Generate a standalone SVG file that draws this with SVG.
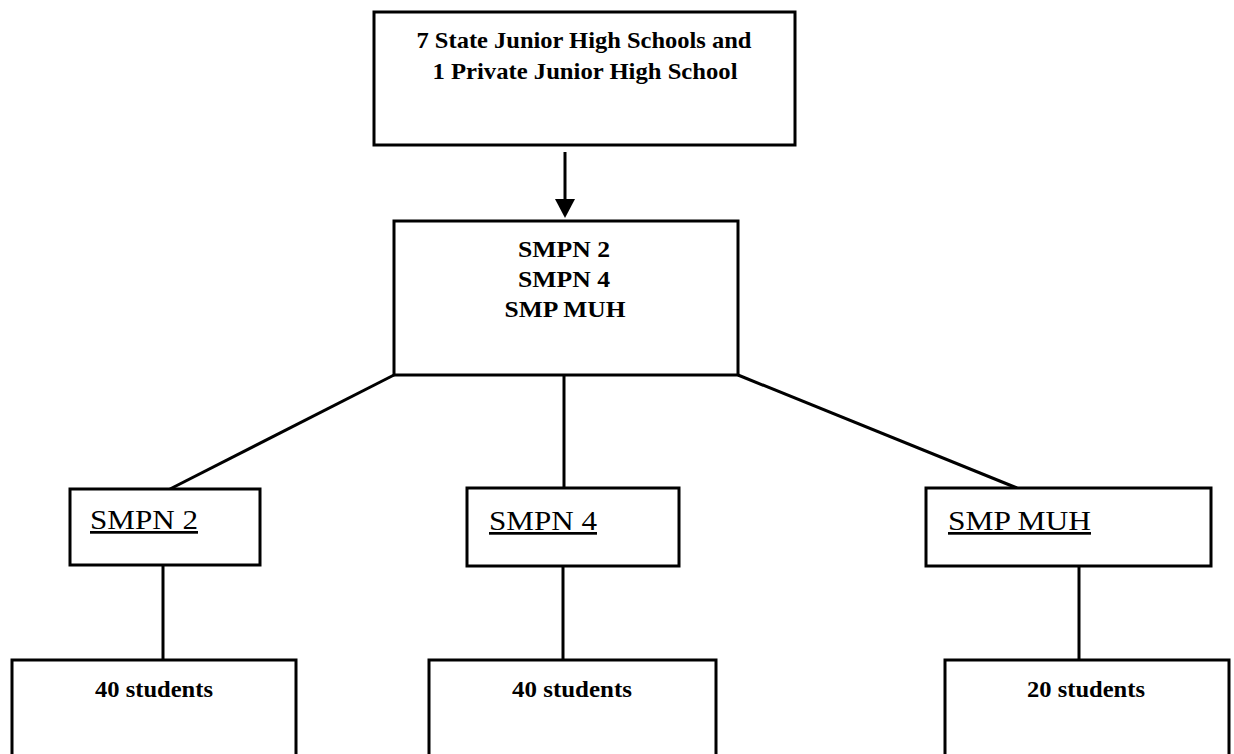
<svg xmlns="http://www.w3.org/2000/svg" width="1234" height="754" viewBox="0 0 1234 754">
<defs>
<style>
.box{fill:#fff;stroke:#000;stroke-width:3}
.ln{stroke:#000;stroke-width:3;fill:none}
text{font-family:"Liberation Serif","Times New Roman",serif;font-weight:bold;font-size:24px;fill:#000}
.c{text-anchor:middle}
.u{text-decoration:underline;font-weight:normal;font-size:27px}
</style>
</defs>
<rect width="1234" height="754" fill="#fff"/>
<g id="connectors">
<line class="ln" x1="565" y1="152" x2="565" y2="200"/>
<path d="M555,199 L575,199 L565,218 Z" fill="#000"/>
<line class="ln" x1="394" y1="375" x2="170" y2="489"/>
<line class="ln" x1="564" y1="375" x2="564" y2="488"/>
<line class="ln" x1="738" y1="375" x2="1017" y2="488"/>
<line class="ln" x1="163" y1="565" x2="163" y2="660"/>
<line class="ln" x1="563" y1="566" x2="563" y2="660"/>
<line class="ln" x1="1079" y1="566" x2="1079" y2="660"/>
</g>
<g id="top">
<rect class="box" x="374" y="12" width="421" height="133"/>
<text class="c" x="584" y="48" textLength="335" lengthAdjust="spacingAndGlyphs">7 State Junior High Schools and</text>
<text class="c" x="585" y="79" textLength="305" lengthAdjust="spacingAndGlyphs">1 Private Junior High School</text>
</g>
<g id="group">
<rect class="box" x="394" y="221" width="344" height="154"/>
<text class="c" x="564" y="257" textLength="92" lengthAdjust="spacingAndGlyphs">SMPN 2</text>
<text class="c" x="564" y="287" textLength="92" lengthAdjust="spacingAndGlyphs">SMPN 4</text>
<text class="c" x="565" y="317" textLength="121" lengthAdjust="spacingAndGlyphs">SMP MUH</text>
</g>
<g id="smpn2">
<rect class="box" x="70" y="489" width="190" height="76"/>
<text class="u" x="90" y="529" textLength="108" lengthAdjust="spacingAndGlyphs">SMPN 2</text>
</g>
<g id="smpn4">
<rect class="box" x="467" y="488" width="212" height="78"/>
<text class="u" x="489" y="530" textLength="108" lengthAdjust="spacingAndGlyphs">SMPN 4</text>
</g>
<g id="smpmuh">
<rect class="box" x="926" y="488" width="285" height="78"/>
<text class="u" x="948" y="530" textLength="143" lengthAdjust="spacingAndGlyphs">SMP MUH</text>
</g>
<g id="students1">
<path class="ln" d="M12,760 L12,660 L296,660 L296,760"/>
<text class="c" x="154" y="697" textLength="118" lengthAdjust="spacingAndGlyphs">40 students</text>
</g>
<g id="students2">
<path class="ln" d="M429,760 L429,660 L716,660 L716,760"/>
<text class="c" x="572" y="697" textLength="120" lengthAdjust="spacingAndGlyphs">40 students</text>
</g>
<g id="students3">
<path class="ln" d="M945,760 L945,660 L1229,660 L1229,760"/>
<text class="c" x="1086" y="697" textLength="118" lengthAdjust="spacingAndGlyphs">20 students</text>
</g>
</svg>
